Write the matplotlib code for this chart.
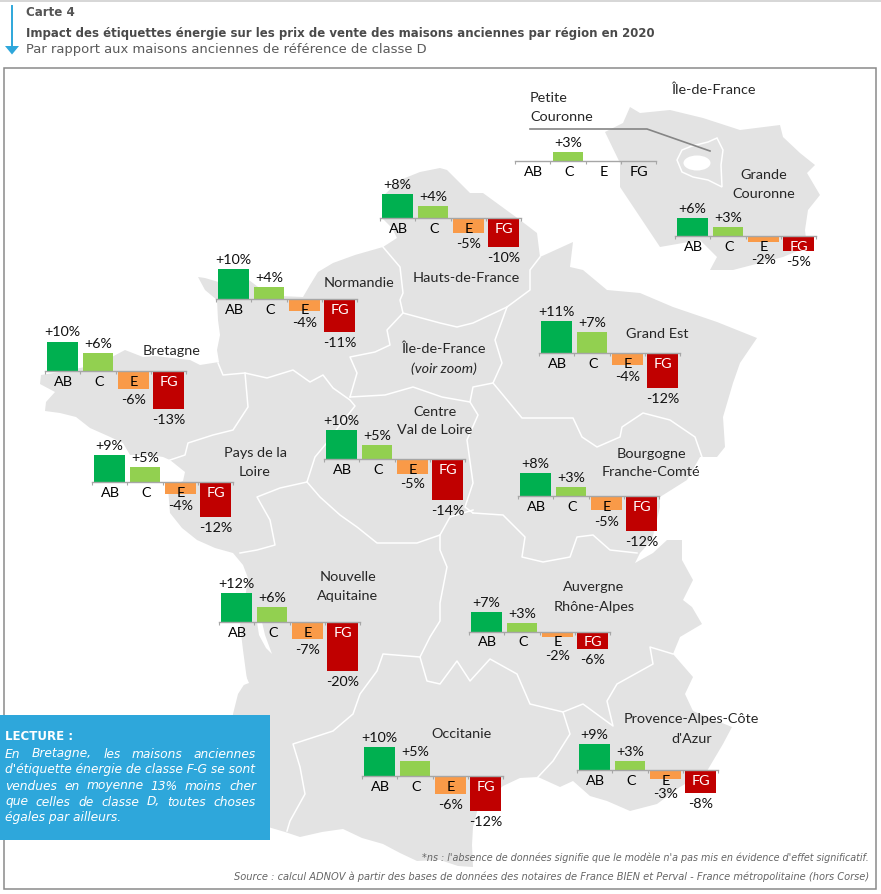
import numpy as np
import matplotlib
matplotlib.use("Agg")
import matplotlib.pyplot as plt
from matplotlib.patches import Polygon, Rectangle, Ellipse

# ---------- data ----------
categories = ["AB", "C", "E", "FG"]
hauts_de_france = [8, 4, -5, -10]
normandie = [10, 4, -4, -11]
bretagne = [10, 6, -6, -13]
pays_de_la_loire = [9, 5, -4, -12]
grand_est = [11, 7, -4, -12]
centre_val_de_loire = [10, 5, -5, -14]
bourgogne_fc = [8, 3, -5, -12]
nouvelle_aquitaine = [12, 6, -7, -20]
auvergne_ra = [7, 3, -2, -6]
occitanie = [10, 5, -6, -12]
paca = [9, 3, -3, -8]
grande_couronne = [6, 3, -2, -5]
petite_couronne = [None, 3, None, None]

# ---------- layout / style ----------
W, H = 881, 894
FONT = "Lato"
HEAD = "DejaVu Sans"
BLUE = "#2ea7db"
GREY = "#e3e3e3"
TXT = "#262626"
COLS = ["#00b050", "#92d050", "#f99a48", "#c00000"]
SLOT = 35.35
PX = 0.72  # px -> points at dpi 100
LABEL_SIZE = 10.4
VALUE_SIZE = 10.3

fig = plt.figure(figsize=(W / 100, H / 100), dpi=100)
bg = fig.add_axes([0, 0, 1, 1])
bg.set_xlim(0, W)
bg.set_ylim(H, 0)
bg.axis("off")
rend = fig.canvas.get_renderer()


def fit(x, y, s, width, ha="left", **kw):
    t = bg.text(x, y, s, ha=ha, va="center", fontsize=10, **kw)
    w = t.get_window_extent(rend).width
    t.set_fontsize(10 * width / w)
    return t


def justify(x0, x1, y, s, size, **kw):
    words = s.split()
    ts = [bg.text(0, y, w, va="center", fontsize=size, **kw) for w in words]
    ws = [t.get_window_extent(rend).width for t in ts]
    gap = (x1 - x0 - sum(ws)) / (len(ws) - 1)
    x = x0
    for t, w in zip(ts, ws):
        t.set_x(x)
        x += w + gap


# map
france = [(440,168),(420,172),(400,180),(382,197),(382,218),(392,228),(397,238),(383,247),(355,255),(333,263),(318,272),
          (310,285),(303,297),(280,296),(262,290),(245,277),(222,283),(205,278),(198,277),(205,290),(217,300),(218,320),
          (220,335),(217,350),(219,362),(200,365),(190,360),(172,358),(155,356),(143,357),(125,350),(110,358),(90,366),
          (60,372),(41,375),(40,384),(55,392),(46,402),(45,411),(60,413),(76,417),(90,428),(108,436),(123,443),(130,455),
          (150,455),(163,457),(170,460),(185,472),(183,481),(168,488),(170,513),(182,528),(197,540),(215,548),(233,553),
          (243,565),(248,578),(246,592),(243,610),(240,625),(243,650),(247,680),(238,694),(233,714),(232,760),(250,815),
          (268,827),(285,832),(300,837),(322,832),(343,829),(362,838),(383,844),(400,853),(417,861),(440,860),(458,866),
          (473,867),(472,845),(473,827),(478,808),(503,786),(520,778),(538,777),(560,787),(573,781),(590,796),(607,801),
          (630,811),(657,804),(680,787),(707,771),(723,744),(732,727),(707,717),(693,711),(685,694),(693,677),(673,654),
          (680,637),(702,624),(692,607),(683,600),(693,580),(682,560),(682,540),(667,540),(653,553),(635,563),(640,553),
          (652,540),(660,507),(660,497),(687,480),(700,457),(717,457),(725,447),(723,417),(733,383),(740,363),(757,338),
          (717,322),(673,307),(640,293),(607,290),(583,270),(570,267),(573,242),(540,257),(537,233),(520,220),(483,193),
          (470,193),(447,170)]
bg.add_patch(Polygon(france, closed=True, fc=GREY, ec="none", zorder=1))
# estuaries and basin
bg.add_patch(Polygon([(257,622),(262,622),(265,635),(272,654),(266,648),(259,635)], closed=True, fc="white", ec="none", zorder=1.5))
bg.add_patch(Polygon([(239,674),(246,676),(249,683),(241,686)], closed=True, fc="white", ec="none", zorder=1.5))

idf = [(630,107),(640,113),(670,110),(703,118),(740,130),(780,125),(783,137),(800,153),(815,165),(807,173),(820,195),
       (808,210),(805,230),(807,247),(783,257),(733,270),(710,270),(717,257),(700,240),(660,247),(640,217),(620,187),
       (620,163),(605,132),(623,123)]
bg.add_patch(Polygon(idf, closed=True, fc=GREY, ec="none", zorder=1))
ring = [(677,160),(682,150),(692,146),(708,142),(717,138),(723,150),(721,165),(722,187),(708,180),(693,177),(682,172)]
bg.add_patch(Polygon(ring, closed=True, fc=GREY, ec="white", lw=1.1, zorder=2))
bg.add_patch(Ellipse((697, 163), 27, 15, fc="white", ec="none", zorder=3))

borders = [
    [(383,247),(400,267),(403,293),(400,300),(403,313),(387,330),(390,345),(375,352),(350,357),(357,373),(350,397)],
    [(218,363),(223,375),(245,373),(267,378),(293,370),(310,382),(323,375),(333,388),(350,400),(355,406),(340,425),(325,445),(315,457),(307,482)],
    [(245,373),(248,407),(233,430),(213,435),(188,443),(185,455),(170,460)],
    [(307,482),(280,488),(257,497),(270,520),(275,545),(257,550),(240,553)],
    [(307,482),(320,497),(340,515),(357,527),(377,543),(417,543),(440,535),(450,517),(473,510)],
    [(473,513),(465,507),(473,483),(467,440),(478,415),(470,402),(473,387),(493,383),(502,363),(495,340),(507,307),(530,290),(530,270),(540,257)],
    [(350,397),(385,395),(413,387),(442,397),(470,402)],
    [(403,313),(440,323),(457,327),(473,323),(507,307)],
    [(493,383),(503,395),(522,418),(573,418),(582,437),(597,447),(620,437),(622,427),(643,413),(670,420),(695,437),(702,457)],
    [(473,513),(503,515),(525,537),(522,557),(543,562),(570,557),(577,537),(593,535),(610,550),(637,553)],
    [(440,535),(440,550),(447,567),(440,603),(440,621),(430,637),(420,657),(427,681),(440,684),(457,661),(470,681),(490,659),(517,674),(530,704),(563,712),(570,734),(553,761),(538,777)],
    [(420,657),(383,654),(377,671),(360,694),(353,714),(333,731),(293,744),(300,767),(305,794),(290,821),(287,831)],
    [(563,712),(583,704),(613,726),(607,701),(617,684),(653,664),(650,647),(673,654)],
]
for b in borders:
    xs, ys = zip(*b)
    bg.plot(xs, ys, color="white", lw=1.1, zorder=2, solid_joinstyle="round")

# frame and heading
bg.add_patch(Rectangle((4, 68), 871.5, 821, fc="none", ec="#8a8a8a", lw=1.1, zorder=4))
bg.plot([0, W], [1.2, 1.2], color="#cfcfcf", lw=1.2)
bg.plot([12, 12], [6, 47], color=BLUE, lw=1.4)
bg.add_patch(Polygon([(5, 46), (19, 46), (12, 54.5)], closed=True, fc=BLUE, ec="none"))
fit(26, 13, "Carte 4", 49, color="#555555", family=HEAD, fontweight="bold")
fit(26, 33.5, "Impact des étiquettes énergie sur les prix de vente des maisons anciennes par région en 2020", 631,
    color="#4a4a4a", family=HEAD, fontweight="bold")
fit(26, 50, "Par rapport aux maisons anciennes de référence de classe D", 397, color="#5a5a5a", family=HEAD)

# lecture box
bg.add_patch(Rectangle((0, 715), 270, 125, fc=BLUE, ec="none", zorder=5))
fit(5, 737, "LECTURE :", 68, color="white", family=HEAD, fontweight="bold", zorder=6)
lec = fit(5, 770, "d'étiquette énergie de classe F-G se sont", 251, color="white", family=HEAD, style="italic", zorder=6)
lsize = lec.get_fontsize()
justify(5, 256, 754, "En Bretagne, les maisons anciennes", lsize, color="white", family=HEAD, style="italic", zorder=6)
justify(5, 256, 786, "vendues en moyenne 13% moins cher", lsize, color="white", family=HEAD, style="italic", zorder=6)
justify(5, 256, 802, "que celles de classe D, toutes choses", lsize, color="white", family=HEAD, style="italic", zorder=6)
bg.text(5, 818, "égales par ailleurs.", color="white", family=HEAD, style="italic", fontsize=lsize, va="center", zorder=6)

# footers
fit(869, 858, "*ns : l'absence de données signifie que le modèle n'a pas mis en évidence d'effet significatif.", 450,
    ha="right", color="#666666", family=HEAD, style="italic", zorder=6)
fit(869, 877, "Source : calcul ADNOV à partir des bases de données des notaires de France BIEN et Perval - France métropolitaine (hors Corse)",
    635, ha="right", color="#666666", family=HEAD, style="italic", zorder=6)

# leader line
bg.plot([530, 647, 710], [129, 129, 151], color="#858585", lw=1.2, zorder=3)

# region labels
LBL = dict(ha="center", va="center", fontsize=LABEL_SIZE, color=TXT, family=FONT, zorder=3)
for x, y, s in [(713, 90, "Île-de-France"), (764, 175, "Grande"), (764, 194, "Couronne"),
                (466, 278, "Hauts-de-France"), (359, 283, "Normandie"), (172, 351, "Bretagne"),
                (443, 349, "Île-de-France"), (657, 334, "Grand Est"), (255, 453, "Pays de la"), (255, 472, "Loire"),
                (435, 412, "Centre"), (435, 430, "Val de Loire"), (651, 454, "Bourgogne"), (651, 472, "Franche-Comté"),
                (348, 577, "Nouvelle"), (348, 596, "Aquitaine"), (594, 587, "Auvergne"), (594, 607, "Rhône-Alpes"),
                (462, 734, "Occitanie"), (691, 719, "Provence-Alpes-Côte"), (692, 739, "d'Azur")]:
    bg.text(x, y, s, **LBL)
bg.text(444, 369, "(voir zoom)", style="italic", **LBL)
bg.text(530, 98, "Petite", **{**LBL, "ha": "left"})
bg.text(530, 117, "Couronne", **{**LBL, "ha": "left"})


def mini(values, left, base, ppp):
    lo, hi = -22, 14
    ax = fig.add_axes([left / W, 1 - (base - lo * ppp) / H, 4 * SLOT / W, (hi - lo) * ppp / H])
    ax.set_xlim(0, 4)
    ax.set_ylim(lo, hi)
    ax.patch.set_visible(False)
    for k in ("top", "left", "right"):
        ax.spines[k].set_visible(False)
    ax.spines["bottom"].set_position(("data", 0))
    ax.spines["bottom"].set_color("#a6a6a6")
    ax.spines["bottom"].set_linewidth(1.0)
    ax.set_xticks(range(5))
    ax.set_xticklabels([])
    ax.set_yticks([])
    ax.tick_params(axis="x", length=2, width=0.8, color="#a6a6a6", direction="out")
    for i, (cat, v) in enumerate(zip(categories, values)):
        xc = i + 0.5
        catcol = "black"
        if v is not None:
            ax.bar(xc, v, width=0.865, color=COLS[i], zorder=1)
            if i == 3:
                catcol = "white"
        ax.annotate(cat, (xc + 0.02, 0), xytext=(0, -11 * PX), textcoords="offset points", ha="center", va="center",
                    fontsize=LABEL_SIZE, color=catcol, family=FONT, zorder=3, annotation_clip=False)
        if v is None:
            continue
        if v > 0:
            dy = 9.0
        else:
            end = -v * ppp
            dy = -(max(end + 11, 24) if i == 2 else end + 11)
        yy = v if v > 0 else 0
        ax.annotate(f"{v:+d}%", (xc, yy), xytext=(0, dy * PX), textcoords="offset points", ha="center", va="center",
                    fontsize=VALUE_SIZE, color="#111111", family=FONT, zorder=3, annotation_clip=False)


mini(hauts_de_france, 380, 218, 2.95)
mini(normandie, 216, 299, 3.0)
mini(bretagne, 45, 371, 2.95)
mini(pays_de_la_loire, 92, 482, 2.95)
mini(grand_est, 539, 353, 2.95)
mini(centre_val_de_loire, 324, 459, 2.9)
mini(bourgogne_fc, 518, 496, 2.9)
mini(nouvelle_aquitaine, 219, 622, 2.45)
mini(auvergne_ra, 469, 631.5, 2.85)
mini(occitanie, 362, 776, 2.95)
mini(paca, 577, 770, 2.9)
mini(grande_couronne, 675, 236, 2.95)
mini(petite_couronne, 515, 160.5, 2.7)

fig.savefig("out.png", dpi=100)
